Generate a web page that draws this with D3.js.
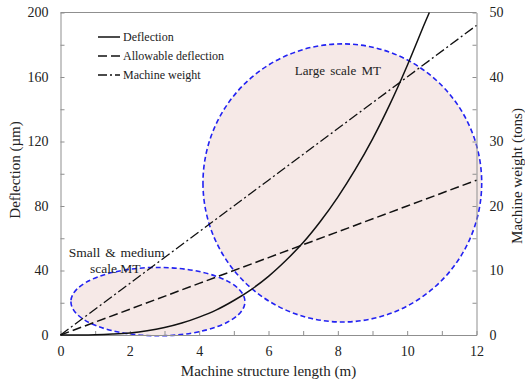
<!DOCTYPE html>
<html>
<head>
<meta charset="utf-8">
<script src="https://cdn.jsdelivr.net/npm/d3@7"></script>
<style>
  body { margin: 0; background: #fff; }
  text { font-family: "Liberation Serif", "Times New Roman", serif; fill: #222; }
</style>
</head>
<body>
<div id="chart"></div>
<script>
// values
const lengthX = [0, 0.5, 1, 1.5, 2, 2.5, 3, 3.5, 4, 4.5, 5, 5.5, 6, 6.5, 7, 7.5, 8, 8.5, 9, 9.5, 10, 10.5, 10.64]
const deflection = [0, 0.02, 0.17, 0.6, 1.3, 2.6, 4.6, 7.4, 11.1, 15.6, 21.4, 28.2, 36.4, 46.2, 57.3, 70.5, 85.5, 102.5, 121.5, 143, 167, 193, 200]
const lineX = [0, 2, 4, 6, 8, 10, 12]
const allowable = [0, 16, 32, 48, 64, 80, 96]
const weight = [0, 8, 16, 24, 32, 40, 48]
const legendNames = ["Deflection", "Allowable deflection", "Machine weight"]
const xTicks = [0, 1, 2, 3, 4, 5, 6, 7, 8, 9, 10, 11, 12]
const yTicks = [0, 20, 40, 60, 80, 100, 120, 140, 160, 180, 200]
const y2Ticks = [0, 5, 10, 15, 20, 25, 30, 35, 40, 45, 50]
// regions drawn as ellipses: [cx, cy, rx, ry] in data units
const regions = [[2.81, 20.7, 2.51, 21.2], [8.13, 94.3, 4.02, 86.2]]

const W = 525, H = 383
const margin = {l: 60.5, r: 48.5, t: 12.5, b: 48}
const width = W - margin.l - margin.r
const height = H - margin.t - margin.b

const svg = d3.select("#chart").append("svg")
    .attr("width", W)
    .attr("height", H)
const g = svg.append("g").attr("transform", `translate(${margin.l},${margin.t})`)

const x = d3.scaleLinear().domain([0, 12]).range([0, width])
const y = d3.scaleLinear().domain([0, 200]).range([height, 0])
const y2 = d3.scaleLinear().domain([0, 50]).range([height, 0])

//regions, one path with evenodd so the overlap stays white
let regionPath = ""
regions.forEach(function(r) {
    const cx = x(r[0]), cy = y(r[1])
    const rx = x(r[2]) - x(0), ry = y(0) - y(r[3])
    regionPath += `M${cx - rx},${cy}A${rx},${ry} 0 1 0 ${cx + rx},${cy}A${rx},${ry} 0 1 0 ${cx - rx},${cy}Z`
})
g.append("path")
    .attr("d", regionPath)
    .attr("fill", "#f6e9e7")
    .attr("fill-rule", "evenodd")
    .attr("stroke", "#2222f2")
    .attr("stroke-width", 1.6)
    .attr("stroke-dasharray", "5,3")

//axes
const grey = "#8f8f8f"
function styleAxis(sel) {
    sel.selectAll("path").attr("stroke", grey)
    sel.selectAll("line").attr("stroke", grey)
    sel.selectAll("text").attr("font-size", 14).attr("font-family", "Liberation Serif").attr("fill", "#222")
}
g.append("g")
    .attr("transform", `translate(0,${height})`)
    .call(d3.axisBottom(x).tickValues(xTicks).tickFormat(d => d % 2 === 0 ? d : "")
        .tickSizeInner(-4).tickSizeOuter(0).tickPadding(11))
    .call(styleAxis)
g.append("g")
    .call(d3.axisLeft(y).tickValues(yTicks).tickFormat(d => d % 40 === 0 ? d : "")
        .tickSizeInner(-4).tickSizeOuter(0).tickPadding(12))
    .call(styleAxis)
g.append("g")
    .attr("transform", `translate(${width},0)`)
    .call(d3.axisRight(y2).tickValues(y2Ticks).tickFormat(d => d % 10 === 0 ? d : "")
        .tickSizeInner(-4).tickSizeOuter(0).tickPadding(13))
    .call(styleAxis)
g.append("line")
    .attr("x1", 0).attr("x2", width).attr("y1", 0).attr("y2", 0)
    .attr("stroke", grey)

//lines
const dashes = ["", "9,4", "10,3,2,3"]
g.append("path")
    .datum(lengthX.map((d, i) => [d, deflection[i]]))
    .attr("fill", "none")
    .attr("stroke", "#111")
    .attr("stroke-width", 1.5)
    .attr("d", d3.line().x(d => x(d[0])).y(d => y(d[1])).curve(d3.curveCatmullRom))
g.append("path")
    .datum(lineX.map((d, i) => [d, allowable[i]]))
    .attr("fill", "none")
    .attr("stroke", "#111")
    .attr("stroke-width", 1.5)
    .attr("stroke-dasharray", dashes[1])
    .attr("d", d3.line().x(d => x(d[0])).y(d => y(d[1])))
g.append("path")
    .datum(lineX.map((d, i) => [d, weight[i]]))
    .attr("fill", "none")
    .attr("stroke", "#111")
    .attr("stroke-width", 1.3)
    .attr("stroke-dasharray", dashes[2])
    .attr("d", d3.line().x(d => x(d[0])).y(d => y2(d[1])))

//legend
const legend = g.append("g").attr("transform", "translate(37.5,24.5)")
legendNames.forEach(function(name, i) {
    legend.append("line")
        .attr("x1", 0).attr("x2", 22)
        .attr("y1", i * 19).attr("y2", i * 19)
        .attr("stroke", "#111")
        .attr("stroke-width", 1.5)
        .attr("stroke-dasharray", i === 0 ? null : (i === 1 ? "9,4" : "9,3,2,3"))
    legend.append("text")
        .attr("x", 25).attr("y", i * 19)
        .attr("dy", "0.35em")
        .attr("font-size", 12)
        .text(name)
})

//annotations
g.append("text").attr("x", x(6.76)).attr("y", y(161)).attr("font-size", 13)
    .attr("word-spacing", 2).text("Large scale MT")
g.append("text").attr("x", x(0.24)).attr("y", y(48.4)).attr("font-size", 13.5)
    .attr("word-spacing", 1.5).text("Small & medium")
g.append("text").attr("x", x(0.85)).attr("y", y(38.4)).attr("font-size", 13.5).text("scale MT")

//axis titles
svg.append("text")
    .attr("x", margin.l + width / 2)
    .attr("y", 376)
    .attr("text-anchor", "middle")
    .attr("font-size", 15)
    .text("Machine structure length (m)")
svg.append("text")
    .attr("transform", "translate(20,170) rotate(-90)")
    .attr("text-anchor", "middle")
    .attr("font-size", 15)
    .text("Deflection (µm)")
svg.append("text")
    .attr("transform", "translate(521.5,176) rotate(-90)")
    .attr("text-anchor", "middle")
    .attr("font-size", 15)
    .text("Machine weight (tons)")
</script>
</body>
</html>
